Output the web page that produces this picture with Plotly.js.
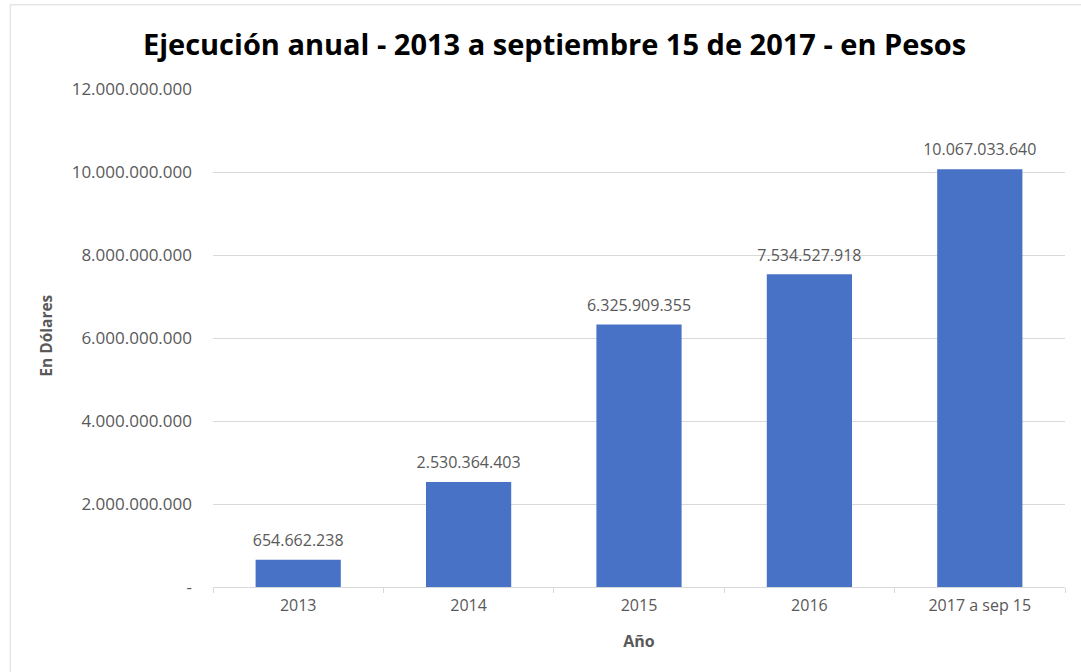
<!DOCTYPE html>
<html>
<head>
<meta charset="utf-8">
<script src="https://cdn.plot.ly/plotly-3.0.1.min.js"></script>
<style>html,body{margin:0;padding:0;background:#fff;}#chart{width:1081px;height:672px;}</style>
</head>
<body>
<div id="chart"></div>
<script>
const categories = ["2013", "2014", "2015", "2016", "2017 a sep 15"];
const values = [654662238, 2530364403, 6325909355, 7534527918, 10067033640];
const yTickVals = [0, 2000000000, 4000000000, 6000000000, 8000000000, 10000000000, 12000000000];
const yTickText = ["-", "2.000.000.000", "4.000.000.000", "6.000.000.000", "8.000.000.000", "10.000.000.000", "12.000.000.000"];

const FONT = "Open Sans, sans-serif";
const GREY = "#595959";

const bars = {
  type: "bar",
  x: categories,
  y: values,
  marker: {color: "#4872c6", line: {width: 0}},
  hoverinfo: "x+y"
};

const labels = {
  type: "scatter",
  mode: "markers+text",
  x: categories,
  y: values,
  marker: {size: 14, color: "rgba(0,0,0,0)"},
  texttemplate: "%{y:,}",
  textposition: "top center",
  textfont: {family: FONT, size: 16, color: GREY},
  cliponaxis: false,
  hoverinfo: "skip"
};

const layout = {
  width: 1081, height: 672,
  separators: ",.",
  paper_bgcolor: "#ffffff",
  plot_bgcolor: "#ffffff",
  margin: {l: 213, r: 16, t: 89, b: 85},
  bargap: 0.5,
  showlegend: false,
  title: {
    text: "<b>Ejecución anual - 2013 a septiembre 15 de 2017 - en Pesos</b>",
    font: {family: FONT, size: 29, color: "#000000"},
    xref: "container", x: 0.513, xanchor: "center",
    yref: "container", y: 0.933, yanchor: "middle"
  },
  xaxis: {
    type: "category",
    tickfont: {family: FONT, size: 16, color: GREY},
    showline: true, linecolor: "#d9d9d9", linewidth: 1,
    ticks: "outside", tickson: "boundaries", ticklen: 5, tickcolor: "#d9d9d9",
    showgrid: false, tickangle: 0, ticklabelstandoff: 4,
    title: {text: "<b>Año</b>", font: {family: FONT, size: 16, color: GREY}, standoff: 20}
  },
  yaxis: {
    range: [0, 12000000000],
    tickvals: yTickVals,
    ticktext: yTickText,
    tickfont: {family: FONT, size: 17, color: GREY},
    showgrid: true, gridcolor: "#d9d9d9", gridwidth: 1,
    zeroline: false, showline: false,
    ticks: "", ticklabelstandoff: 20
  },
  annotations: [{
    text: "<b>En Dólares</b>",
    xref: "paper", yref: "paper",
    x: -0.197, y: 0.505, xanchor: "center", yanchor: "middle",
    textangle: -90, showarrow: false,
    font: {family: FONT, size: 15.5, color: GREY}
  }],
  shapes: [{
    type: "rect", xref: "paper", yref: "paper",
    x0: -0.238, x1: 1.03, y0: -0.175, y1: 1.169,
    line: {color: "#d9d9d9", width: 1}, fillcolor: "rgba(0,0,0,0)", layer: "below"
  }]
};

Plotly.newPlot("chart", [bars, labels], layout, {displayModeBar: false, staticPlot: true});
</script>
</body>
</html>
